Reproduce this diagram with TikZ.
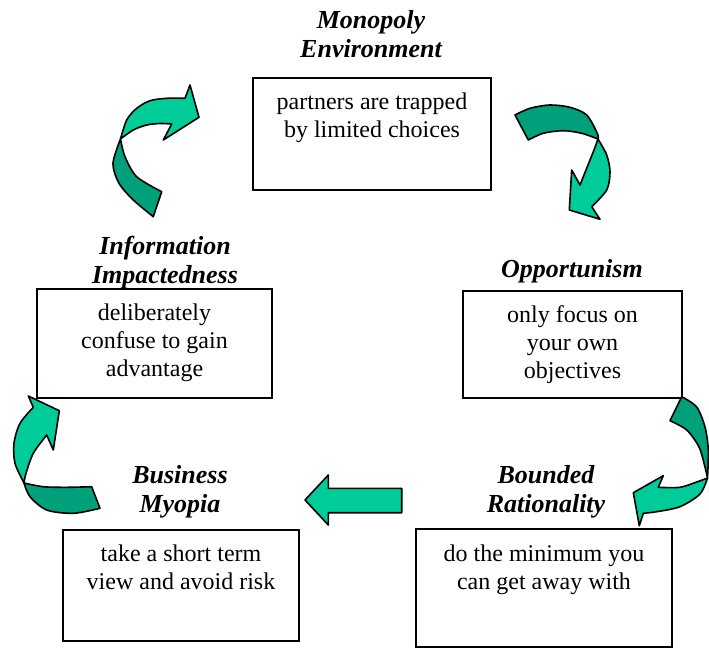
\documentclass[tikz,border=0pt]{standalone}
\usepackage{fontspec}
\setmainfont{Liberation Serif}
\begin{document}
\begin{tikzpicture}[x=1pt,y=-1pt,
  heading/.style={font=\fontsize{26}{29}\selectfont\bfseries\itshape, align=center, inner sep=0pt, anchor=base},
  bodytext/.style={font=\fontsize{24}{28}\selectfont, align=center, inner sep=0pt, anchor=base},
  stagebox/.style={draw=black, line width=2pt, fill=white, rectangle, inner sep=0pt},
  lightpart/.style={fill=arrowlight, draw=black, line width=1.6pt, line join=round},
  darkpart/.style={fill=arrowdark, draw=black, line width=1.6pt, line join=round}]
\definecolor{arrowlight}{RGB}{0,204,153}
\definecolor{arrowdark}{RGB}{0,160,122}
\useasboundingbox (0,0) rectangle (709,648);

% stage boxes
\node[stagebox, minimum width=238pt, minimum height=112pt] (mono) at (372,134) {};
\node[stagebox, minimum width=219pt, minimum height=107pt] (opp) at (572.5,344.5) {};
\node[stagebox, minimum width=235pt, minimum height=109pt] (info) at (154.5,343.5) {};
\node[stagebox, minimum width=236pt, minimum height=111pt] (myop) at (181,585.5) {};
\node[stagebox, minimum width=256pt, minimum height=118pt] (bound) at (544,588) {};

% headings (base anchor sits on the last line)
\node[heading] (monoh) at (371,57) {Monopoly\\Environment};
\node[heading] (opph) at (572,277) {Opportunism};
\node[heading] (infoh) at (165,283) {Information\\Impactedness};
\node[heading] (myoph) at (180,512) {Business\\Myopia};
\node[heading] (boundh) at (546,512) {Bounded\\Rationality};

% box texts (base anchor sits on the last line)
\node[bodytext] (monot) at ([yshift=-60pt]mono.north) {partners are trapped\\by limited choices};
\node[bodytext] (oppt) at ([yshift=-88pt]opp.north) {only focus on\\your own\\objectives};
\node[bodytext] (infot) at ([yshift=-88.5pt]info.north) {deliberately\\confuse to gain\\advantage};
\node[bodytext] (myopt) at ([yshift=-60pt]myop.north) {take a short term\\view and avoid risk};
\node[bodytext] (boundt) at ([yshift=-61pt]bound.north) {do the minimum you\\can get away with};

% curved arrow: Information Impactedness -> Monopoly Environment
\filldraw[darkpart] (161.7,191.7) -- (153.3,216.7)
  -- plot[smooth] coordinates {(153.3,216.7) (133.3,200) (119,183.3) (113,163.3) (120.5,139)}
  -- plot[smooth] coordinates {(120.5,139) (125,156.7) (136.7,176.7) (161.7,191.7)} -- cycle;
\filldraw[lightpart] (120.5,139)
  -- plot[smooth] coordinates {(120.5,139) (126.7,120) (136.7,108.3) (150,100.7) (166.7,98.3) (185,98.3)}
  -- (190,85) -- (199,117.3) -- (163.3,140) -- (171.7,124)
  -- plot[smooth] coordinates {(171.7,124) (160,123.5) (146.7,125) (133.3,130) (120.5,139)} -- cycle;

% curved arrow: Monopoly Environment -> Opportunism
\filldraw[darkpart] (515,115) -- (528.3,140)
  -- plot[smooth] coordinates {(528.3,140) (543.3,133.3) (563.3,130.7) (581.7,133.3) (598,139)}
  -- plot[smooth] coordinates {(598,139) (597.3,133.3) (586.7,115) (570,107.3) (550,105) (530,108.3) (515,115)} -- cycle;
\filldraw[lightpart] (598,139)
  -- plot[smooth] coordinates {(598,139) (606.7,155) (610,172) (606.7,190) (591.7,206.7)}
  -- (600,219.3) -- (569.3,210) -- (571.7,170) -- (580,185)
  -- plot[smooth] coordinates {(580,185) (588,165) (594,150) (598,139)} -- cycle;

% curved arrow: Opportunism -> Bounded Rationality
\filldraw[darkpart] (681.7,396.7) -- (670,420.7)
  -- plot[smooth] coordinates {(670,420.7) (686.7,430) (699,447) (705,467) (707.5,478)}
  -- plot[smooth] coordinates {(707.5,478) (708.3,450) (705,427) (696.7,407) (681.7,396.7)} -- cycle;
\filldraw[lightpart] (707.5,478)
  -- plot[smooth] coordinates {(707.5,478) (700,494) (680,506.7) (656.7,511.7) (643.3,513.3)}
  -- (639.3,525.7) -- (633.3,492.7) -- (663.3,475.7) -- (658.3,487.3)
  -- plot[smooth] coordinates {(658.3,487.3) (680,487.3) (696.7,482) (707.5,478)} -- cycle;

% straight arrow: Bounded Rationality -> Business Myopia
\filldraw[lightpart] (401.7,488.3) -- (328.3,488.3) -- (328.3,475) -- (305,500)
  -- (328.3,525) -- (328.3,512.7) -- (401.7,512.7) -- cycle;

% curved arrow: Business Myopia -> Information Impactedness
\filldraw[darkpart] (91.7,486.7) -- (100,508.3)
  -- plot[smooth] coordinates {(100,508.3) (73.3,513.3) (46.7,510) (30,496.7) (24,483)}
  -- plot[smooth] coordinates {(24,483) (43.3,486.7) (66.7,487.3) (91.7,486.7)} -- cycle;
\filldraw[lightpart] (24,483)
  -- plot[smooth] coordinates {(24,483) (15,463.3) (14,443.3) (20,423.3) (33.3,407.3)}
  -- (28.3,396) -- (59.3,410.7) -- (53.3,450) -- (46.7,435)
  -- plot[smooth] coordinates {(46.7,435) (33.3,453.3) (26,473.3) (24,483)} -- cycle;
\end{tikzpicture}
\end{document}
